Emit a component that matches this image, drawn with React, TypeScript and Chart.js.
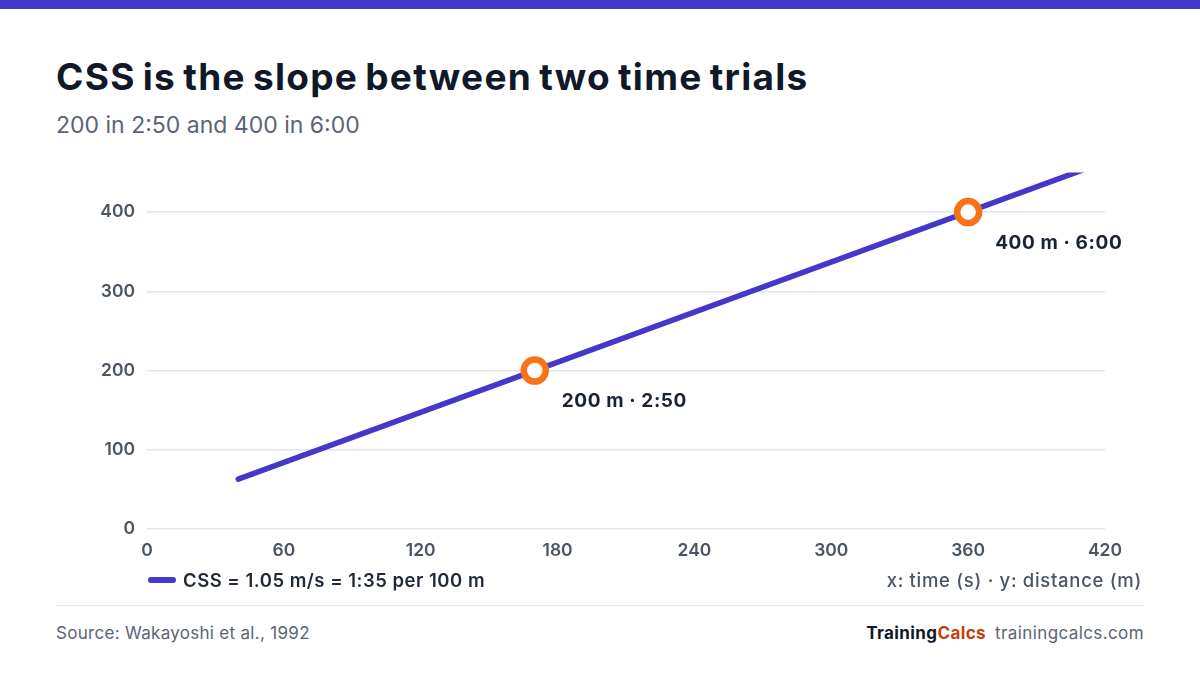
import { useEffect, useRef } from 'react'
import { Chart, registerables } from 'chart.js'

Chart.register(...registerables)

// trial data (time in s, distance in m)
const trialTimes = [170, 360]
const trialDistances = [200, 400]
const trialLabels = ['200 m · 2:50', '400 m · 6:00']

// CSS line endpoints
const lineTimes = [40, 410]
const lineDistances = [63, 453]

const xTicks = [0, 60, 120, 180, 240, 300, 360, 420]
const yTicks = [0, 100, 200, 300, 400]

const C = {
  accent: '#4338ca',
  orange: '#f97316',
  ink: '#111827',
  text2: '#4b5563',
  grid: '#e3e6ec',
  brand: '#c2410c',
}

const FONT = "Inter, 'Noto Sans', sans-serif"

const trialLabelPlugin = {
  id: 'trialLabels',
  afterDatasetsDraw(chart: any) {
    const { ctx, scales } = chart
    ctx.save()
    ctx.font = `700 19px ${FONT}`
    ctx.letterSpacing = '0.6px'
    ctx.fillStyle = '#1b2332'
    ctx.textBaseline = 'middle'
    ctx.textAlign = 'left'
    trialTimes.forEach((t, i) => {
      const x = scales.x.getPixelForValue(t)
      const y = scales.y.getPixelForValue(trialDistances[i])
      ctx.fillText(trialLabels[i], x + 27, y + 31)
    })
    ctx.restore()
  },
}

function CssChart() {
  const canvasRef = useRef<HTMLCanvasElement>(null)
  const chartRef = useRef<Chart | null>(null)

  useEffect(() => {
    if (!canvasRef.current) return
    if (chartRef.current) { chartRef.current.destroy(); chartRef.current = null }

    chartRef.current = new Chart(canvasRef.current, {
      type: 'scatter',
      data: {
        datasets: [
          {
            label: 'trials',
            data: trialTimes.map((t, i) => ({ x: t, y: trialDistances[i] })),
            pointRadius: 11,
            pointBorderWidth: 6.5,
            pointBorderColor: C.orange,
            pointBackgroundColor: '#ffffff',
            showLine: false,
            order: 0,
          },
          {
            label: 'css',
            data: lineTimes.map((t, i) => ({ x: t, y: lineDistances[i] })),
            showLine: true,
            borderColor: C.accent,
            borderWidth: 5.5,
            borderCapStyle: 'round',
            pointRadius: 0,
            clip: { left: 6, top: 0, right: 6, bottom: 6 },
            order: 1,
          },
        ],
      },
      options: {
        animation: false,
        responsive: true,
        maintainAspectRatio: false,
        layout: { padding: { top: 17, right: 39, bottom: 0, left: 0 } },
        plugins: {
          legend: { display: false },
          tooltip: { enabled: false },
        },
        scales: {
          x: {
            type: 'linear',
            min: 0, max: 420,
            grid: { display: false },
            border: { display: false },
            afterBuildTicks: (s: any) => { s.ticks = xTicks.map(v => ({ value: v })) },
            afterFit: (s: any) => { s.height = 41 },
            ticks: { padding: 3, color: C.text2, font: { family: FONT, size: 17.5, weight: 600 } },
          },
          y: {
            min: 0, max: 450,
            grid: { color: C.grid, lineWidth: 1.5, drawTicks: false },
            border: { display: false },
            afterBuildTicks: (s: any) => { s.ticks = yTicks.map(v => ({ value: v })) },
            afterFit: (s: any) => { s.width = 91 },
            ticks: { padding: 12, color: C.text2, font: { family: FONT, size: 17.5, weight: 600 } },
          },
        },
      },
      plugins: [trialLabelPlugin],
    } as any)

    return () => { chartRef.current?.destroy(); chartRef.current = null }
  }, [])

  return <canvas ref={canvasRef} style={{ width: '100%', height: '100%' }} />
}

export default function App() {
  useEffect(() => {
    document.body.style.margin = '0'
    document.body.style.background = '#ffffff'
  }, [])

  return (
    <div style={{ position: 'relative', width: 1200, height: 675, background: '#fff', fontFamily: FONT, overflow: 'hidden' }}>
      <div style={{ position: 'absolute', left: 0, top: 0, width: 1200, height: 9, background: C.accent }} />
      <div style={{ position: 'absolute', left: 56, top: 54, fontSize: 37, fontWeight: 700, color: C.ink, letterSpacing: 1.3, wordSpacing: -3, whiteSpace: 'nowrap' }}>
        CSS is the slope between two time trials
      </div>
      <div style={{ position: 'absolute', left: 56, top: 111, fontSize: 23, color: '#5b6474', whiteSpace: 'nowrap' }}>
        200 in 2:50 and 400 in 6:00
      </div>
      <div style={{ position: 'absolute', left: 56, top: 150, width: 1088, height: 420 }}>
        <CssChart />
      </div>
      <div style={{ position: 'absolute', left: 148, top: 569, display: 'flex', alignItems: 'center', whiteSpace: 'nowrap' }}>
        <span style={{ display: 'inline-block', width: 28, height: 6, borderRadius: 3, background: C.accent, marginRight: 7 }} />
        <span style={{ fontSize: 18.5, fontWeight: 600, color: '#1f2937', letterSpacing: 0.5 }}>CSS = 1.05 m/s = 1:35 per 100 m</span>
      </div>
      <div style={{ position: 'absolute', right: 58, top: 569, fontSize: 18.5, fontWeight: 500, color: C.text2, letterSpacing: 0.7, whiteSpace: 'nowrap' }}>
        x: time (s) · y: distance (m)
      </div>
      <div style={{ position: 'absolute', left: 56, top: 605, width: 1088, height: 1, background: '#e5e7eb' }} />
      <div style={{ position: 'absolute', left: 56, top: 623, fontSize: 17, color: '#5b6474', letterSpacing: 0.3, whiteSpace: 'nowrap' }}>
        Source: Wakayoshi et al., 1992
      </div>
      <div style={{ position: 'absolute', right: 56, top: 623, fontSize: 17, letterSpacing: 0.4, whiteSpace: 'nowrap' }}>
        <span style={{ fontWeight: 700, color: C.ink }}>Training</span>
        <span style={{ fontWeight: 700, color: C.brand }}>Calcs</span>
        <span style={{ color: '#5b6474', marginLeft: 9 }}>trainingcalcs.com</span>
      </div>
    </div>
  )
}
